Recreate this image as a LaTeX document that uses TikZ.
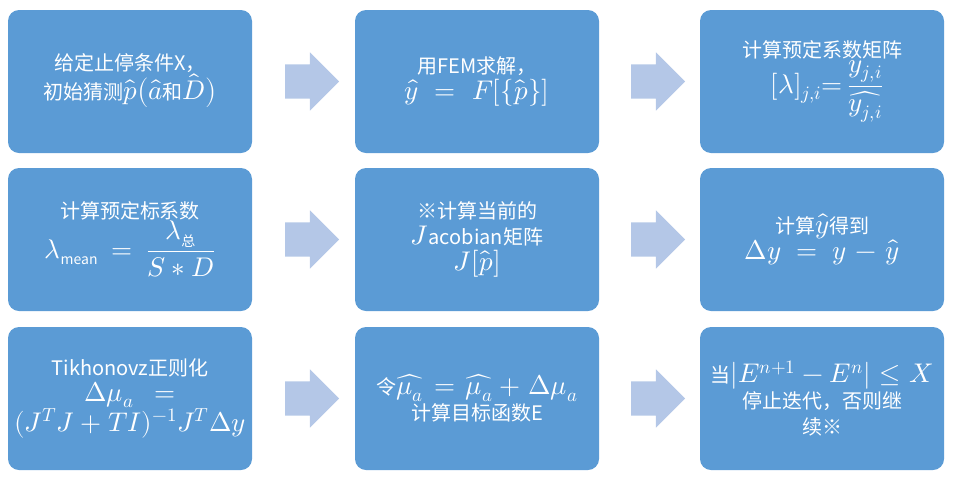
\documentclass[tikz,border=0pt]{standalone}
\usepackage{amsmath}
\usepackage{fontspec}
\usepackage{unicode-math}
\setmainfont{Noto Sans CJK SC}
\setmathfont{Latin Modern Math}[Scale=1.35]
\usetikzlibrary{shapes.arrows}
\definecolor{boxblue}{HTML}{5B9BD5}
\definecolor{arrblue}{HTML}{B4C7E7}
\begin{document}
\begin{tikzpicture}[x=1pt,y=-1pt,
  box/.style={fill=boxblue,rounded corners=11pt,minimum width=244pt,minimum height=143pt,
    text width=236pt,align=center,text=white,font=\fontsize{20}{26}\selectfont,inner sep=0pt},
  bigarrow/.style={single arrow,fill=arrblue,minimum height=54pt,inner xsep=0pt,inner ysep=17pt,
    single arrow head extend=12pt}]
\useasboundingbox (0,0) rectangle (956,483);
\node[box] (b1) at (130,81.5) {给定止停条件X，\\初始猜测$\hat p\big(\hat a$和$\hat D\big)$};
\node[box] (b2) at (477,81.5) {用FEM求解，\\$\hat y=F[\{\hat p\}]$};
\node[box] (b3) at (822,81.5) {计算预定系数矩阵\\\hspace*{10pt}$[\lambda]_{j,i}{=}\,\dfrac{y_{j,i}}{\widehat{y_{j,i}}}$};
\node[box] (b4) at (130,239.5) {计算预定标系数\\$\lambda_{\text{mean}}=\dfrac{\lambda_{\text{总}}}{S*D}$};
\node[box] (b5) at (477,239.5) {※计算当前的\\$J$acobian矩阵\\$J[\hat p]$};
\node[box] (b6) at (822,239.5) {计算$\hat y$得到\\$\Delta y=y-\hat y$};
\node[box] (b7) at (130,398.5) {Tikhonovz正则化\\$\Delta\mu_a=$\\$(J^TJ+TI)^{-1}J^T\Delta y$};
\node[box] (b8) at (477,398.5) {令$\widehat{\mu_a}=\widehat{\mu_a}+\Delta\mu_a$\\计算目标函数E};
\node[box] (b9) at (822,398.5) {当$|E^{n+1}-E^n|\le X$\\停止迭代，否则继\\续※};
\node[bigarrow] (a1) at (303.5,81.5) {};
\node[bigarrow] (a2) at (649.5,81.5) {};
\node[bigarrow] (a3) at (303.5,239.5) {};
\node[bigarrow] (a4) at (649.5,239.5) {};
\node[bigarrow] (a5) at (303.5,398.5) {};
\node[bigarrow] (a6) at (649.5,398.5) {};
\end{tikzpicture}
\end{document}
